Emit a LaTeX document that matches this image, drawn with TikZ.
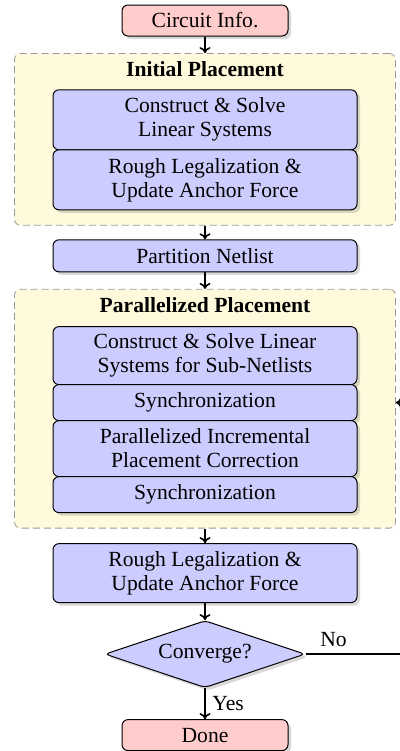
\documentclass[tikz,border=0pt]{standalone}
\usepackage{fontspec}
\setmainfont{Liberation Serif}
\usetikzlibrary{positioning,fit,backgrounds,shapes.geometric,shadows,arrows.meta}
\definecolor{stagebg}{RGB}{255,250,220}
\newcommand\chartfont{\fontsize{10.8}{12}\selectfont}
\tikzset{
  shadowed/.style={drop shadow={shadow xshift=1.5pt, shadow yshift=-1.5pt, opacity=0.3}},
  terminal/.style={draw, line width=0.5pt, fill=red!20, rounded corners=3pt,
    minimum width=83pt, minimum height=15.5pt, inner sep=1pt, shadowed},
  process/.style={draw, line width=0.5pt, fill=blue!20, rounded corners=3pt,
    minimum width=152pt, inner sep=1pt, align=center, shadowed},
  decision/.style={diamond, aspect=3, draw, line width=0.5pt, fill=blue!20,
    minimum width=100pt, minimum height=33.5pt, inner sep=0pt, rounded corners=2pt, shadowed},
  stage/.style={draw=black!40, dash pattern=on 3.5pt off 2pt, fill=stagebg,
    rounded corners=3pt, inner xsep=19pt, inner ysep=7.5pt},
  stagetitle/.style={font=\chartfont\bfseries, inner sep=0pt, text height=4pt, text depth=0pt},
  flow/.style={-{To[length=3pt,width=5.5pt]}, thick},
}

\begin{document}
\begin{tikzpicture}[font=\chartfont]
  \useasboundingbox (0,0) rectangle (200pt,-375.5pt);

  \node (info) [terminal] at (102.5pt,-10.25pt) {Circuit Info.};

  % initial placement
  \node (t1) [stagetitle, below=16pt of info] {Initial Placement};
  \node (lin1) [process, minimum height=30pt, below=6pt of t1] {Construct \& Solve\\Linear Systems};
  \node (leg1) [process, minimum height=30pt, below=-0.5pt of lin1] {Rough Legalization \&\\Update Anchor Force};

  \node (part) [process, minimum height=16pt, below=14.5pt of leg1] {Partition Netlist};

  % parallelized placement
  \node (t2) [stagetitle, below=16pt of part] {Parallelized Placement};
  \node (sub) [process, minimum height=29pt, below=6.5pt of t2] {Construct \& Solve Linear\\Systems for Sub-Netlists};
  \node (sync1) [process, minimum height=18pt, below=-0.5pt of sub] {Synchronization};
  \node (corr) [process, minimum height=28pt, below=-0.5pt of sync1] {Parallelized Incremental\\Placement Correction};
  \node (sync2) [process, minimum height=18pt, below=-0.5pt of corr] {Synchronization};

  \node (leg2) [process, minimum height=29.5pt, below=15pt of sync2] {Rough Legalization \&\\Update Anchor Force};
  \node (conv) [decision, below=8.5pt of leg2] {Converge?};
  \node (done) [terminal, below=15.5pt of conv] {Done};

  \begin{scope}[on background layer]
    \node (g1) [stage, fit=(t1)(lin1)(leg1)] {};
    \node (g2) [stage, fit=(t2)(sub)(sync2)] {};
  \end{scope}

  \draw [flow] (info) -- (g1);
  \draw [flow] (g1) -- (part);
  \draw [flow] (part) -- (g2);
  \draw [flow] (g2) -- (leg2);
  \draw [flow] (leg2) -- (conv);
  \draw [flow] (conv) -- node[right] {Yes} (done);

  % loop back when not converged
  \coordinate [right=50pt of conv.east] (back);
  \draw [flow] (conv.east) -- node[above, pos=0.28] {No} (back) |- (g2.east |- sync1);
\end{tikzpicture}
\end{document}
